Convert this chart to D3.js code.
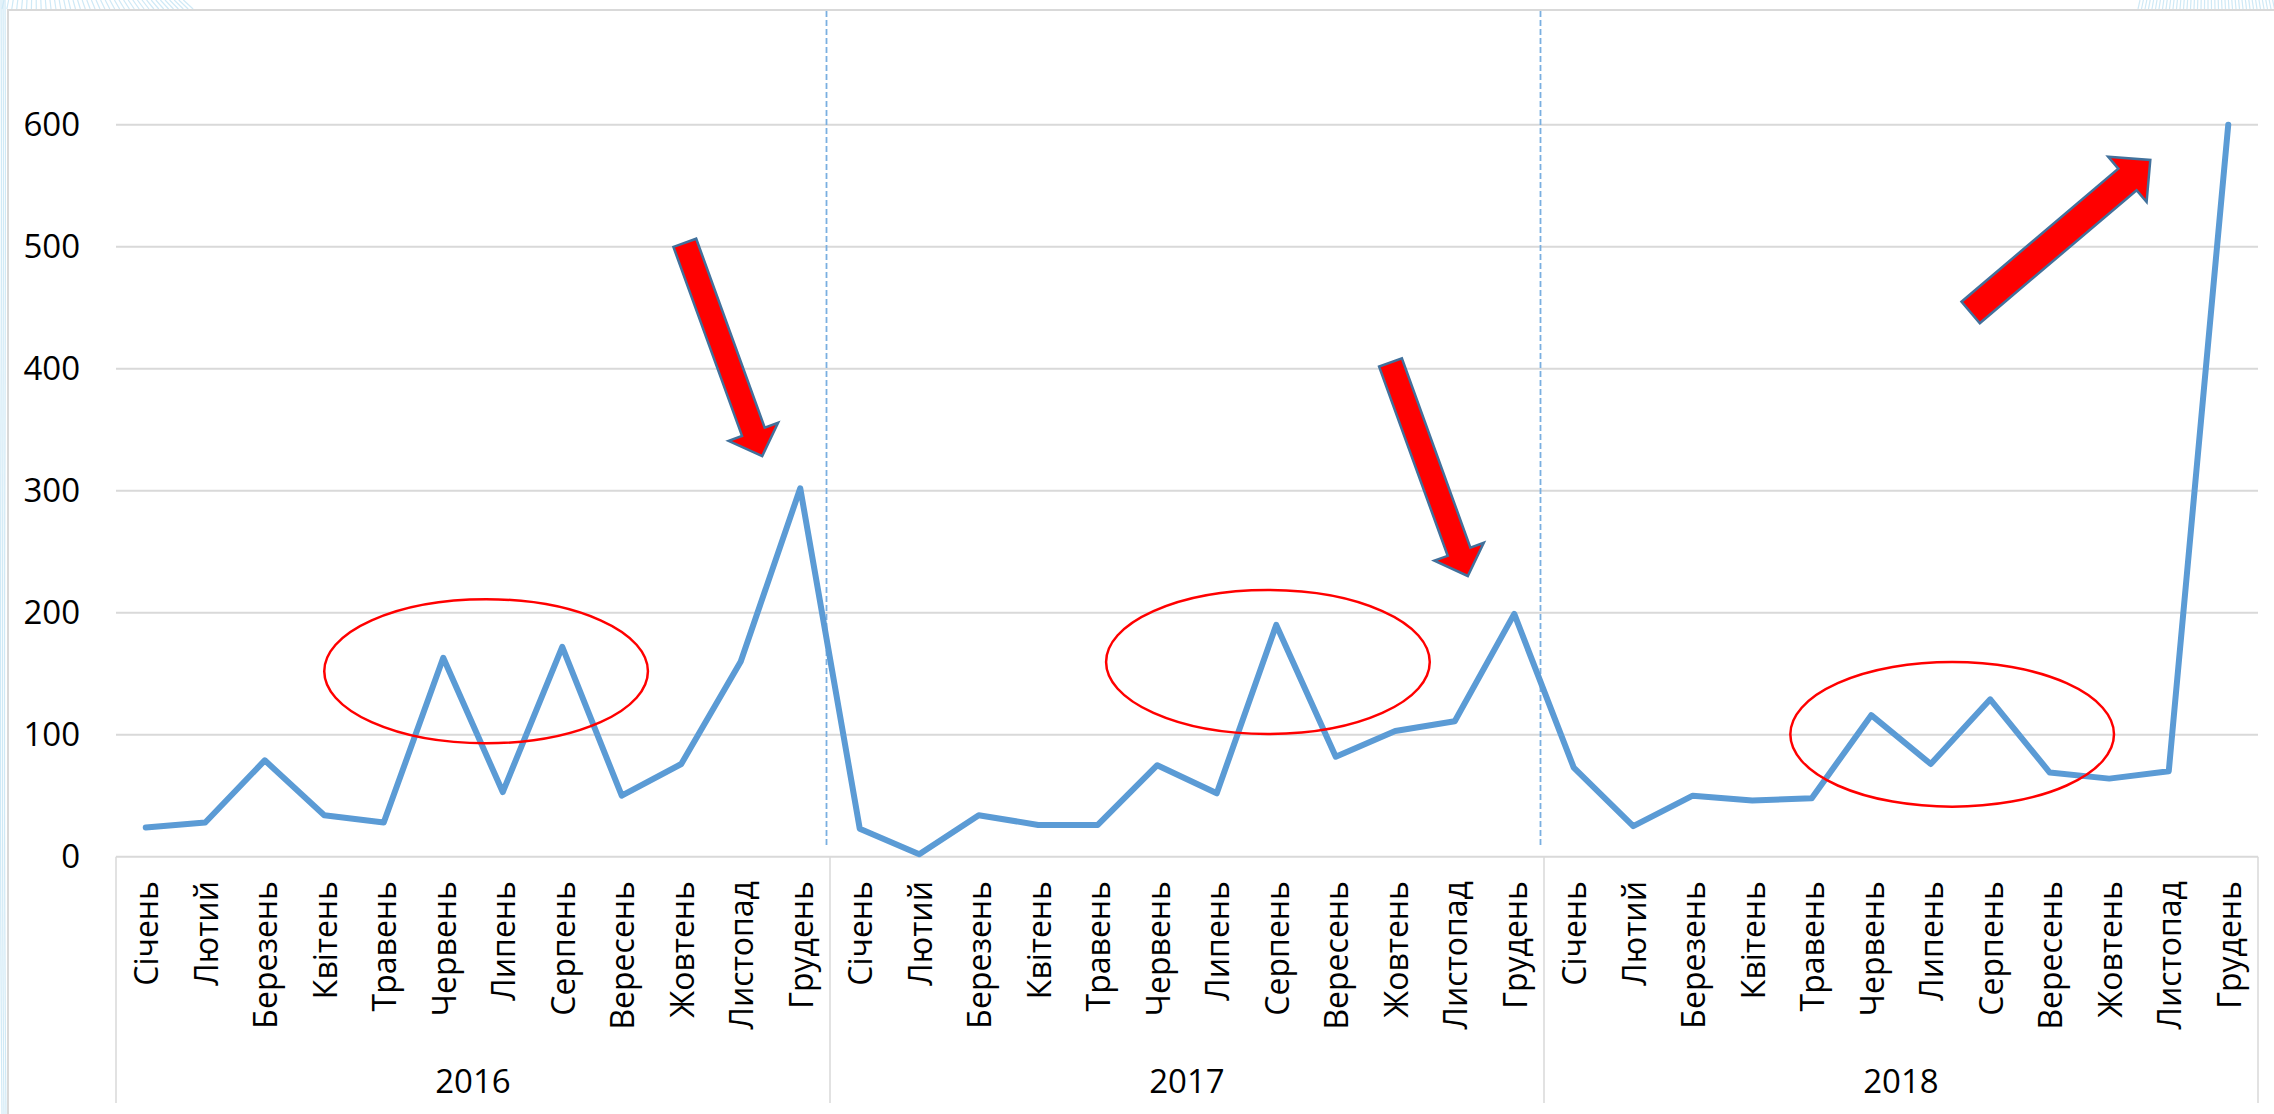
<!DOCTYPE html>
<html>
<head>
<meta charset="utf-8">
<script src="https://cdn.jsdelivr.net/npm/d3@7"></script>
<style>
  html, body { margin: 0; padding: 0; background: #ffffff; }
  svg { display: block; }
  text { font-family: "Open Sans", "Noto Sans", "DejaVu Sans", sans-serif; fill: #000; }
</style>
</head>
<body>
<script>
// ---------------- DATA ----------------
const years = ["2016", "2017", "2018"];
const months = ["Січень", "Лютий", "Березень", "Квітень", "Травень", "Червень",
                "Липень", "Серпень", "Вересень", "Жовтень", "Листопад", "Грудень"];
const values2016 = [24, 28, 79, 34, 28, 163, 53, 172, 50, 76, 160, 302];
const values2017 = [23, 2, 34, 26, 26, 75, 52, 190, 82, 103, 111, 199];
const values2018 = [73, 25, 50, 46, 48, 116, 76, 129, 69, 64, 70, 600];
const yTicks = [0, 100, 200, 300, 400, 500, 600];

// Annotations in data coordinates (category index, value)
const ellipses = [
  { cx: 5.72, cy: 152, rxBands: 2.72, ryValue: 59 },
  { cx: 18.86, cy: 159.6, rxBands: 2.72, ryValue: 59 },
  { cx: 30.36, cy: 100.3, rxBands: 2.72, ryValue: 59.3 }
];
const arrows = [
  { from: [9.06, 503.2], to: [10.36, 328.4], shaft: 24.2, head: 52.6, headLen: 25.8 },
  { from: [20.92, 405.1], to: [22.22, 230.1], shaft: 24.2, head: 52.6, headLen: 25.8 },
  { from: [30.67, 446.1], to: [33.69, 571.1], shaft: 28.3, head: 59.4, headLen: 30 }
];

// ---------------- BUILD ----------------
const W = 2274, H = 1114;
const series = [values2016, values2017, values2018];
const data = [];
years.forEach((y, yi) => months.forEach((m, mi) => data.push({ year: y, month: m, idx: yi * 12 + mi, value: series[yi][mi] })));

const svg = d3.select("body").append("svg").attr("width", W).attr("height", H);

// subtle slide background decoration (pale blue strokes)
const deco = svg.append("g").attr("stroke", "#cfe9f6").attr("stroke-width", 1.2).attr("fill", "none");
for (let i = 0; i < 40; i++) {
  deco.append("line").attr("x1", 4 + i * 4.6).attr("y1", 0).attr("x2", 2 + i * 4.9).attr("y2", 9);
  deco.append("line").attr("x1", 2140 + i * 3.4).attr("y1", 0).attr("x2", 2138 + i * 3.5).attr("y2", 9);
}
for (let i = 0; i < 3; i++) {
  deco.append("path").attr("d", `M${1 + i * 2},0 C ${3 + i * 2},300 ${-2 + i * 2},700 ${2 + i * 2},1114`);
}

const plotL = 116, plotR = 2258, y0px = 856.7, y600px = 124.7;
const x = d3.scaleBand().domain(d3.range(36)).range([plotL, plotR]).padding(0);
const bw = x.bandwidth();
const xc = d3.scaleLinear().domain([-0.5, 35.5]).range([plotL, plotR]);
const y = d3.scaleLinear().domain([0, 600]).range([y0px, y600px]);

// chart border (top + left)
svg.append("path").attr("d", `M8,${H} L8,10 L${W},10`).attr("fill", "none")
   .attr("stroke", "#d9d9d9").attr("stroke-width", 2);

// gridlines
svg.append("g").selectAll("line").data(yTicks.filter(t => t > 0)).join("line")
  .attr("x1", plotL).attr("x2", plotR)
  .attr("y1", d => y(d)).attr("y2", d => y(d))
  .attr("stroke", "#d9d9d9").attr("stroke-width", 2);

// y-axis labels
const yAxis = d3.axisLeft(y).tickValues(yTicks).tickSize(0).tickPadding(36);
const yg = svg.append("g").attr("transform", `translate(${plotL},0)`).call(yAxis);
yg.select(".domain").remove();
yg.selectAll("text").attr("font-size", 33).attr("font-family", '"Open Sans", sans-serif').attr("fill", "#000");

// dashed year separators in plot area
svg.append("g").selectAll("line").data([12, 24]).join("line")
  .attr("x1", d => x(d) - 3.5).attr("x2", d => x(d) - 3.5)
  .attr("y1", 11).attr("y2", 848)
  .attr("stroke", "#7aafe0").attr("stroke-width", 1.8).attr("stroke-dasharray", "6,3");

// category axis line and group separators
svg.append("line").attr("x1", plotL).attr("x2", plotR).attr("y1", y(0)).attr("y2", y(0))
   .attr("stroke", "#d9d9d9").attr("stroke-width", 2);
svg.append("g").selectAll("line").data([0, 12, 24, 36]).join("line")
  .attr("x1", d => (d === 36 ? plotR : x(d))).attr("x2", d => (d === 36 ? plotR : x(d)))
  .attr("y1", y(0)).attr("y2", 1103)
  .attr("stroke", "#d9d9d9").attr("stroke-width", 1.5);

// month labels (rotated)
svg.append("g").selectAll("text").data(data).join("text")
  .attr("transform", d => `translate(${x(d.idx) + bw / 2},881) rotate(-90)`)
  .attr("text-anchor", "end").attr("dominant-baseline", "central")
  .attr("font-size", 32)
  .text(d => d.month);

// year labels
svg.append("g").selectAll("text").data(years).join("text")
  .attr("x", (d, i) => x(i * 12) + bw * 6).attr("y", 1080)
  .attr("text-anchor", "middle").attr("dominant-baseline", "central")
  .attr("font-size", 33)
  .text(d => d);

// the line
const line = d3.line().x(d => x(d.idx) + bw / 2).y(d => y(d.value));
svg.append("path").datum(data).attr("d", line)
  .attr("fill", "none").attr("stroke", "#5b9bd5").attr("stroke-width", 6)
  .attr("stroke-linejoin", "round").attr("stroke-linecap", "round");

// ellipses
svg.append("g").selectAll("ellipse").data(ellipses).join("ellipse")
  .attr("cx", d => xc(d.cx)).attr("cy", d => y(d.cy))
  .attr("rx", d => d.rxBands * bw).attr("ry", d => y(0) - y(d.ryValue))
  .attr("fill", "none").attr("stroke", "#ff0000").attr("stroke-width", 2.5);

// block arrows
function arrowPath(a) {
  const x0 = xc(a.from[0]), y0 = y(a.from[1]);
  const x1 = xc(a.to[0]), y1 = y(a.to[1]);
  const dx = x1 - x0, dy = y1 - y0, L = Math.hypot(dx, dy);
  const ux = dx / L, uy = dy / L, nx = -uy, ny = ux;
  const kx = x1 - ux * a.headLen, ky = y1 - uy * a.headLen;
  const s = a.shaft / 2, h = a.head / 2;
  const pts = [
    [x0 + nx * s, y0 + ny * s], [kx + nx * s, ky + ny * s], [kx + nx * h, ky + ny * h],
    [x1, y1],
    [kx - nx * h, ky - ny * h], [kx - nx * s, ky - ny * s], [x0 - nx * s, y0 - ny * s]
  ];
  return "M" + pts.map(p => p[0].toFixed(1) + "," + p[1].toFixed(1)).join("L") + "Z";
}
svg.append("g").selectAll("path").data(arrows).join("path")
  .attr("d", arrowPath)
  .attr("fill", "#ff0000").attr("stroke", "#41719c").attr("stroke-width", 2.5)
  .attr("stroke-linejoin", "miter");
</script>
</body>
</html>
